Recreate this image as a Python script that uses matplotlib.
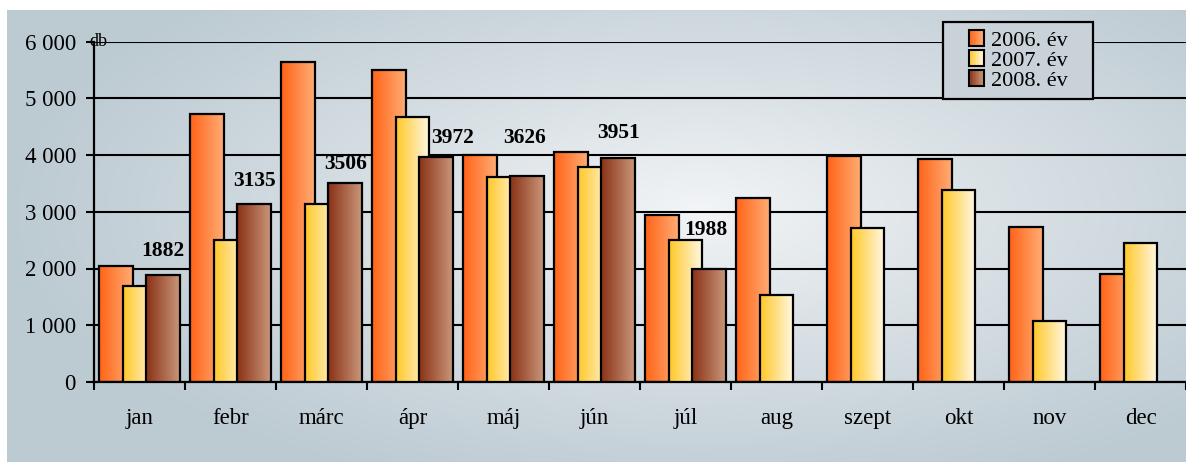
import numpy as np
import matplotlib.pyplot as plt
from matplotlib.patches import Rectangle
from matplotlib.legend_handler import HandlerBase
from matplotlib.colors import to_rgb

plt.rcParams['font.family'] = ['Liberation Serif', 'DejaVu Serif']

# Adatok
months = ['jan', 'febr', 'márc', 'ápr', 'máj', 'jún', 'júl', 'aug', 'szept', 'okt', 'nov', 'dec']
y2006 = [2040, 4730, 5640, 5500, 4000, 4060, 2950, 3240, 3975, 3930, 2730, 1900]
y2007 = [1700, 2510, 3130, 4670, 3620, 3780, 2500, 1530, 2720, 3380, 1080, 2450]
y2008 = [1882, 3135, 3506, 3972, 3626, 3951, 1988]
series_names = ['2006. év', '2007. év', '2008. év']
yticks = [0, 1000, 2000, 3000, 4000, 5000, 6000]
ytick_labels = ['0', '1 000', '2 000', '3 000', '4 000', '5 000', '6 000']

# címkék kézi eltolása (pixel)
label_dx = [0, 0, 0, 16, -3, 0, -3]
label_dy = [24, 23, 19, 19, 38, 25, 39]

grads = [('#ff6418', '#ffac74'), ('#ffc828', '#fff8e6'), ('#8a3216', '#c9967a')]


def grad_img(c1, c2, n=64):
    a, b = np.array(to_rgb(c1)), np.array(to_rgb(c2))
    t = np.linspace(0, 1, n)[None, :, None]
    return a + (b - a) * t


class GradHandler(HandlerBase):
    def __init__(self, c1, c2):
        super().__init__()
        self.c1, self.c2 = c1, c2

    def create_artists(self, legend, orig_handle, xdescent, ydescent, width, height, fontsize, trans):
        arts = []
        n = 10
        cols = grad_img(self.c1, self.c2, n)[0]
        for i in range(n):
            r = Rectangle((-xdescent + width * i / n, -ydescent), width / n + 0.1, height,
                          facecolor=cols[i], edgecolor='none', transform=trans)
            arts.append(r)
        arts.append(Rectangle((-xdescent, -ydescent), width, height, facecolor='none',
                              edgecolor='black', lw=1.5, transform=trans))
        return arts


W, H = 1186, 462
fig = plt.figure(figsize=(W / 100, H / 100), dpi=100)

# háttér sugaras színátmenettel
bg = fig.add_axes([7 / W, 0, 1 - 7 / W, 452 / H])
bg.axis('off')
yy, xx = np.mgrid[0:452, 0:1179]
d = np.sqrt(((xx + 7 - 700) / 700) ** 2 + ((yy + 10 - 210) / 300) ** 2)
d = np.clip(d, 0, 1) ** 0.9
c_in, c_out = np.array(to_rgb('#f3f5f7')), np.array(to_rgb('#bccad2'))
img = c_in * (1 - d[..., None]) + c_out * d[..., None]
bg.imshow(img, aspect='auto', extent=(0, 1, 0, 1), origin='upper')
bg.set_xlim(0, 1)
bg.set_ylim(0, 1)

ax = fig.add_axes([94 / W, (H - 382) / H, 1 - 94 / W, 340.5 / H])
ax.set_facecolor('none')

x = np.arange(len(months))
offs = [-0.258, 0.0, 0.26]
width = 0.372
data = [y2006, y2007, y2008]

for k, vals in enumerate(data):
    z = 2 + k
    g = grad_img(*grads[k])
    for i, v in enumerate(vals):
        xc = x[i] + offs[k]
        ax.imshow(g, extent=(xc - width / 2, xc + width / 2, 0, v), aspect='auto', zorder=z)
    ax.bar(x[:len(vals)] + offs[k], vals, width=width, facecolor='none',
           edgecolor='black', lw=1.6, zorder=z + 0.5)

for i, v in enumerate(y2008):
    ax.annotate(str(v), (x[i] + offs[2], v), xytext=(label_dx[i] * 0.72, label_dy[i] * 0.72),
                textcoords='offset points', ha='center', va='center',
                fontsize=15.5, fontweight='bold', zorder=10)

for t in yticks:
    ax.axhline(t, color='black', lw=1.5, zorder=1)

ax.set_xlim(-0.5, 11.46)
ax.set_ylim(0, 6000)
ax.set_yticks(yticks)
ax.set_yticklabels(ytick_labels)
ax.set_xticks(x)
ax.set_xticklabels(months)
ax.set_xticks(np.arange(-0.5, 12, 1), minor=True)
ax.tick_params(axis='x', which='major', length=0, pad=19, labelsize=16.5)
ax.tick_params(axis='x', which='minor', length=6, width=1.5, direction='out')
ax.tick_params(axis='y', length=6, width=1.5, pad=7, labelsize=16.5)
for s in ['top', 'right']:
    ax.spines[s].set_visible(False)
ax.spines['left'].set_linewidth(1.6)
ax.spines['bottom'].set_linewidth(1.6)
ax.spines['left'].set_zorder(6)

ax.text(-0.004, 1.0, 'db', transform=ax.transAxes, ha='left', va='center', fontsize=13)

# jelmagyarázat keret
box = Rectangle((943 / W, (H - 99) / H), 150 / W, 77 / H, transform=fig.transFigure,
                facecolor='#c8d2d8', edgecolor='black', lw=1.6, zorder=5)
fig.add_artist(box)

handles = [Rectangle((0, 0), 1, 1) for _ in range(3)]
leg = fig.legend(handles, series_names, loc='center', bbox_to_anchor=(1018 / W, (H - 60.5) / H),
                 fontsize=16, handlelength=0.7, handleheight=0.7,
                 handletextpad=0.3, labelspacing=-0.02, borderpad=0, frameon=False,
                 handler_map={h: GradHandler(*grads[k]) for k, h in enumerate(handles)})
leg.set_zorder(6)

fig.savefig('out.png', dpi=100)
